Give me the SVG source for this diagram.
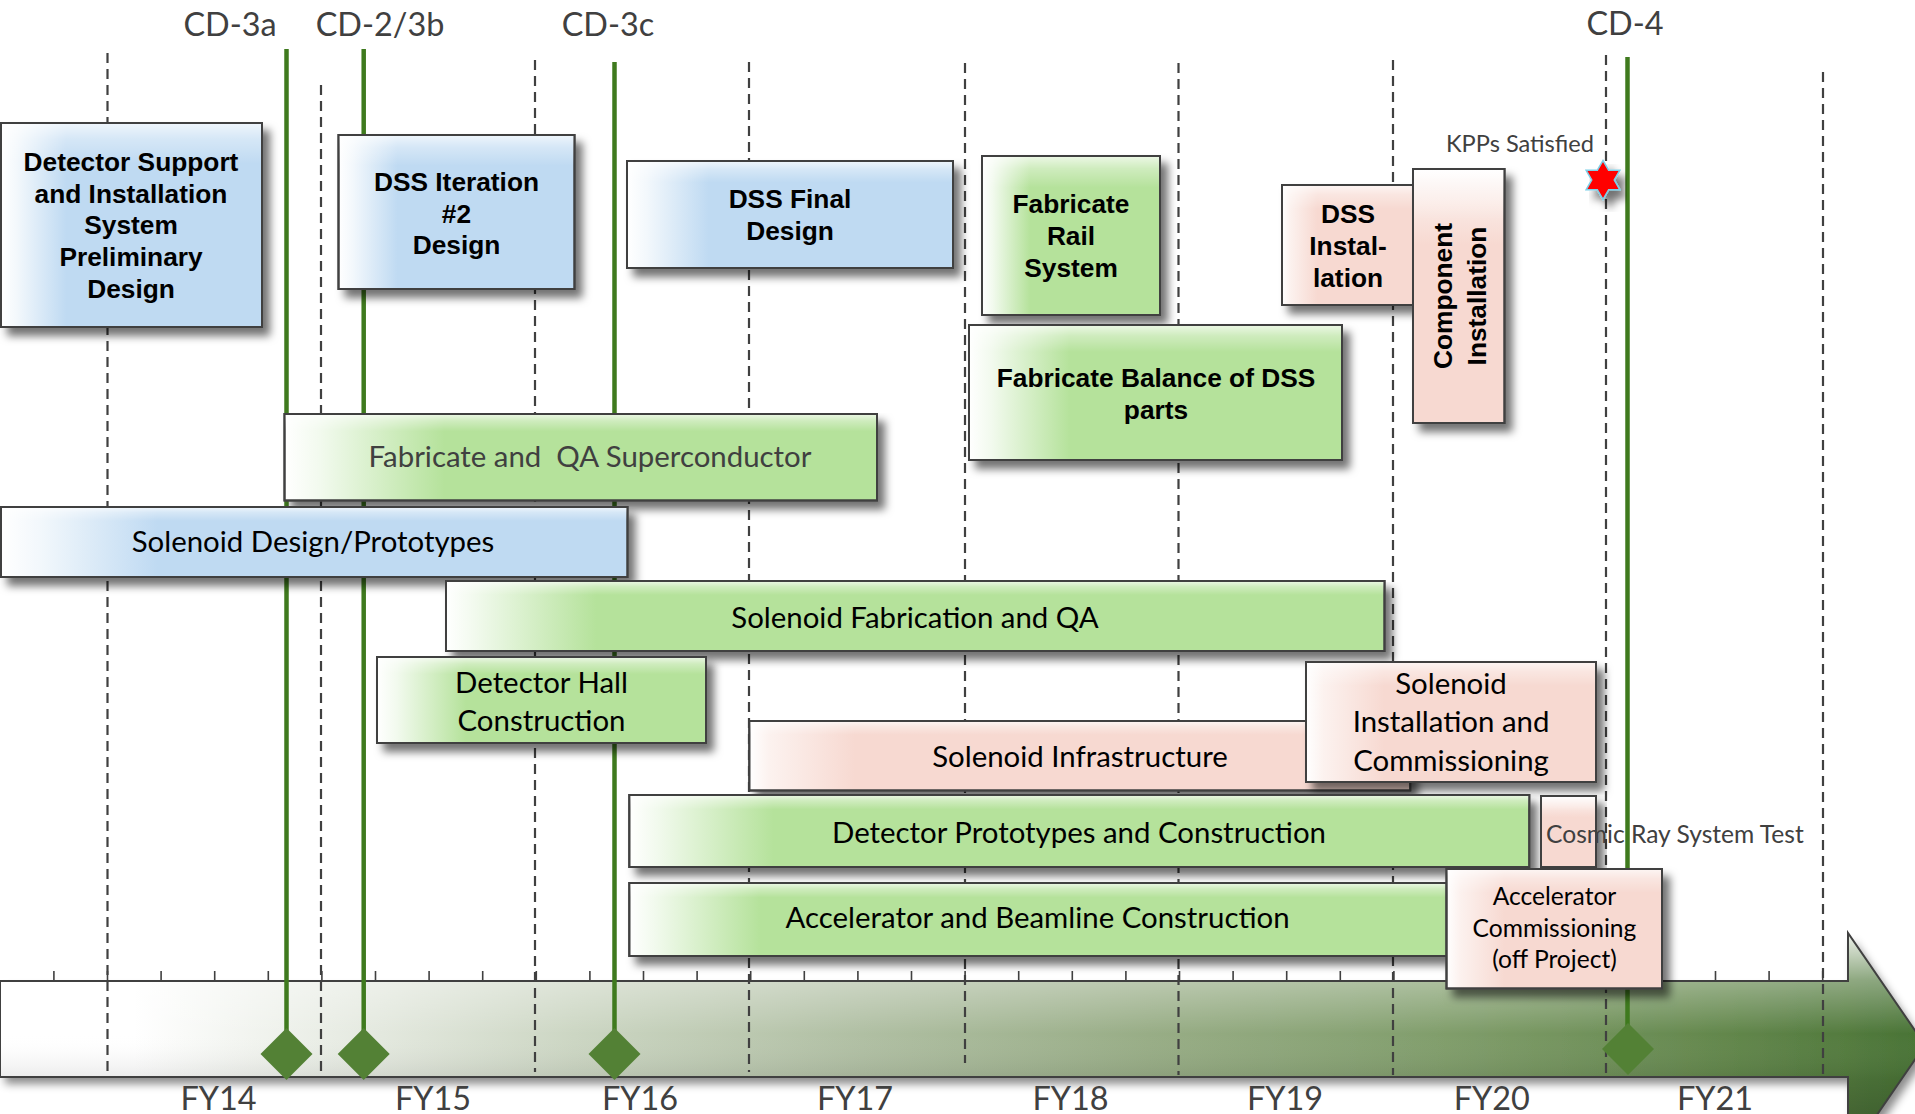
<svg xmlns="http://www.w3.org/2000/svg" width="1915" height="1114" viewBox="0 0 1915 1114">
<style>
.bx{stroke:#404040;stroke-width:2}
.hl{fill:url(#hl);stroke:#404040;stroke-width:2}
.b{font-family:"Liberation Sans",Arial,sans-serif;font-weight:bold;font-size:26.3px;text-anchor:middle;fill:#000}
.c{font-family:Lato,"Open Sans",sans-serif;font-size:29.4px;text-anchor:middle;fill:#000}
.cs{font-size:24.6px}
.gr{fill:#404040}
.lbl{font-family:Lato,"Open Sans",sans-serif;font-size:32.4px;fill:#404040;text-anchor:middle}
.dash{stroke:#404040;stroke-width:2.2;stroke-dasharray:10 6;fill:none}
.ms{stroke:#3f7a1e;stroke-width:4.5;fill:none}
.dia{fill:#538135}
.tick{stroke:#404040;stroke-width:1.6;fill:none}
</style>
<defs>
<filter id="sh" x="-10%" y="-10%" width="130%" height="140%">
<feGaussianBlur in="SourceAlpha" stdDeviation="4"/>
<feOffset dx="7" dy="8" result="o"/>
<feFlood flood-color="#000" flood-opacity="0.55"/>
<feComposite in2="o" operator="in"/>
<feMerge><feMergeNode/><feMergeNode in="SourceGraphic"/></feMerge>
</filter>
<filter id="sh2" x="-5%" y="-20%" width="110%" height="160%">
<feGaussianBlur in="SourceAlpha" stdDeviation="4"/>
<feOffset dx="5" dy="7" result="o"/>
<feFlood flood-color="#000" flood-opacity="0.45"/>
<feComposite in2="o" operator="in"/>
<feMerge><feMergeNode/><feMergeNode in="SourceGraphic"/></feMerge>
</filter>
<linearGradient id="gB" x1="0" y1="0" x2="1" y2="0"><stop offset="0" stop-color="#fff"/><stop offset="0.06" stop-color="#f3f8fc"/><stop offset="0.25" stop-color="#bfdaf2"/><stop offset="1" stop-color="#bfdaf2"/></linearGradient>
<linearGradient id="gG" x1="0" y1="0" x2="1" y2="0"><stop offset="0" stop-color="#fff"/><stop offset="0.06" stop-color="#f2faee"/><stop offset="0.27" stop-color="#b5e29b"/><stop offset="1" stop-color="#b5e29b"/></linearGradient>
<linearGradient id="gGw" x1="0" y1="0" x2="1" y2="0"><stop offset="0" stop-color="#fff"/><stop offset="0.03" stop-color="#f2faee"/><stop offset="0.16" stop-color="#b5e29b"/><stop offset="1" stop-color="#b5e29b"/></linearGradient>
<linearGradient id="gP" x1="0" y1="0" x2="1" y2="0"><stop offset="0" stop-color="#fff"/><stop offset="0.06" stop-color="#fcf2ef"/><stop offset="0.27" stop-color="#f7d9d1"/><stop offset="1" stop-color="#f7d9d1"/></linearGradient>
<linearGradient id="gPw" x1="0" y1="0" x2="1" y2="0"><stop offset="0" stop-color="#fff"/><stop offset="0.03" stop-color="#fcf2ef"/><stop offset="0.16" stop-color="#f7d9d1"/><stop offset="1" stop-color="#f7d9d1"/></linearGradient>
<linearGradient id="gPv" x1="0" y1="0" x2="0" y2="1"><stop offset="0" stop-color="#fff"/><stop offset="0.05" stop-color="#fcf2ef"/><stop offset="0.3" stop-color="#f7d9d1"/><stop offset="1" stop-color="#f7d9d1"/></linearGradient>
<linearGradient id="hl" x1="0" y1="0" x2="0" y2="1"><stop offset="0" stop-color="#fff" stop-opacity="0.75"/><stop offset="0.08" stop-color="#fff" stop-opacity="0.35"/><stop offset="0.2" stop-color="#fff" stop-opacity="0"/><stop offset="1" stop-color="#fff" stop-opacity="0"/></linearGradient>
<linearGradient id="aH" gradientUnits="userSpaceOnUse" x1="0" y1="0" x2="1915" y2="0"><stop offset="0" stop-color="#fff"/><stop offset="0.07" stop-color="#fff"/><stop offset="0.2" stop-color="#e3e8de"/><stop offset="0.3" stop-color="#ccd6c3"/><stop offset="0.45" stop-color="#b0bfa3"/><stop offset="0.6" stop-color="#98ad86"/><stop offset="0.75" stop-color="#819e6c"/><stop offset="0.9" stop-color="#63874c"/><stop offset="1" stop-color="#4a7436"/></linearGradient>
<linearGradient id="aV" gradientUnits="userSpaceOnUse" x1="0" y1="933" x2="0" y2="1157"><stop offset="0" stop-color="#fff" stop-opacity="0.9"/><stop offset="0.21" stop-color="#fff" stop-opacity="0.35"/><stop offset="0.45" stop-color="#fff" stop-opacity="0"/><stop offset="0.65" stop-color="#000" stop-opacity="0.08"/><stop offset="1" stop-color="#000" stop-opacity="0.3"/></linearGradient>
</defs>
<rect width="1915" height="1114" fill="#fff"/>

<g id="timeline-arrow">
<path d="M0,981 H1848 V933 L1925,1045 L1848,1157 V1077 H0 Z" fill="url(#aH)" filter="url(#sh2)"/>
<path d="M0,981 H1848 V933 L1925,1045 L1848,1157 V1077 H0 Z" fill="url(#aV)" stroke="#404040" stroke-width="2"/>
<path class="tick" d="M53.9,971V981M107.5,971V981M161.1,971V981M214.7,971V981M268.3,971V981M321.9,971V981M375.5,971V981M429.1,971V981M482.7,971V981M536.3,971V981M589.9,971V981M643.5,971V981M697.1,971V981M750.7,971V981M804.3,971V981M857.9,971V981M911.5,971V981M965.1,971V981M1018.7,971V981M1072.3,971V981M1125.9,971V981M1179.5,971V981M1233.1,971V981M1286.7,971V981M1340.3,971V981M1393.9,971V981M1447.5,971V981M1501.1,971V981M1554.7,971V981M1608.3,971V981M1661.9,971V981M1715.5,971V981M1769.1,971V981M1822.7,971V981"/>
</g>

<g id="year-gridlines">
<line class="dash" x1="107.5" y1="53" x2="107.5" y2="1072"/>
<line class="dash" x1="321" y1="85" x2="321" y2="1072"/>
<line class="dash" x1="535" y1="60" x2="535" y2="1072"/>
<line class="dash" x1="749" y1="62" x2="749" y2="1072"/>
<line class="dash" x1="965" y1="63" x2="965" y2="1063"/>
<line class="dash" x1="1178.5" y1="63" x2="1178.5" y2="1075"/>
<line class="dash" x1="1393" y1="60" x2="1393" y2="1075"/>
<line class="dash" x1="1606" y1="55" x2="1606" y2="1075"/>
<line class="dash" x1="1823" y1="72" x2="1823" y2="1075"/>
</g>

<g id="connectors">
<line class="ms" x1="286.5" y1="49" x2="286.5" y2="1032"/>
<line class="ms" x1="363.7" y1="49" x2="363.7" y2="1032"/>
<line class="ms" x1="614.5" y1="62" x2="614.5" y2="1032"/>
<line class="ms" x1="1627.5" y1="57" x2="1627.5" y2="1027"/>
</g>

<g id="milestones">
<path class="dia" d="M286.5,1028 L312.5,1054 L286.5,1080 L260.5,1054 Z"/>
<path class="dia" d="M363.7,1028 L389.7,1054 L363.7,1080 L337.7,1054 Z"/>
<path class="dia" d="M614.5,1028 L640.5,1054 L614.5,1080 L588.5,1054 Z"/>
<path class="dia" d="M1628,1023 L1654,1049 L1628,1075 L1602,1049 Z"/>
<text class="lbl" x="230" y="36">CD-3a</text>
<text class="lbl" x="380" y="36">CD-2/3b</text>
<text class="lbl" x="608" y="36">CD-3c</text>
<text class="lbl" x="1625" y="35">CD-4</text>
</g>

<g id="kpp">
<text class="c gr" x="1520" y="152" style="font-size:23.6px">KPPs Satisfied</text>
<path d="M1603,160.5 L1608.63,170.25 L1619.89,170.25 L1614.26,180 L1619.89,189.75 L1608.63,189.75 L1603,199.5 L1597.37,189.75 L1586.11,189.75 L1591.74,180 L1586.11,170.25 L1597.37,170.25 Z" fill="#ff0000" stroke="#7ecfe8" stroke-width="1.5" filter="url(#sh)"/>
</g>

<g id="dss-prelim">
<rect class="bx" x="1" y="123" width="261" height="204" fill="url(#gB)" filter="url(#sh)"/>
<rect class="hl" x="1" y="123" width="261" height="204"/>
<text class="b"><tspan x="131" y="170.7">Detector Support</tspan><tspan x="131" y="202.5">and Installation</tspan><tspan x="131" y="234.3">System</tspan><tspan x="131" y="266.2">Preliminary</tspan><tspan x="131" y="298">Design</tspan></text>
</g>

<g id="dss-iter2">
<rect class="bx" x="338.5" y="135" width="236" height="154" fill="url(#gB)" filter="url(#sh)"/>
<rect class="hl" x="338.5" y="135" width="236" height="154"/>
<text class="b"><tspan x="456.5" y="190.7">DSS Iteration</tspan><tspan x="456.5" y="222.5">#2</tspan><tspan x="456.5" y="254.3">Design</tspan></text>
</g>

<g id="dss-final">
<rect class="bx" x="627" y="161" width="326" height="107" fill="url(#gB)" filter="url(#sh)"/>
<rect class="hl" x="627" y="161" width="326" height="107"/>
<text class="b"><tspan x="790" y="208.3">DSS Final</tspan><tspan x="790" y="240">Design</tspan></text>
</g>

<g id="fab-rail">
<rect class="bx" x="982" y="156" width="178" height="159" fill="url(#gG)" filter="url(#sh)"/>
<rect class="hl" x="982" y="156" width="178" height="159"/>
<text class="b"><tspan x="1071" y="213.3">Fabricate</tspan><tspan x="1071" y="245.3">Rail</tspan><tspan x="1071" y="277.3">System</tspan></text>
</g>

<g id="dss-install">
<rect class="bx" x="1282" y="185" width="131" height="120" fill="url(#gP)" filter="url(#sh)"/>
<rect class="hl" x="1282" y="185" width="131" height="120"/>
<text class="b"><tspan x="1348" y="222.7">DSS</tspan><tspan x="1348" y="254.7">Instal-</tspan><tspan x="1348" y="286.7">lation</tspan></text>
</g>

<g id="component-install">
<rect class="bx" x="1413" y="169" width="91.5" height="254" fill="url(#gPv)" filter="url(#sh)"/>
<rect class="hl" x="1413" y="169" width="91.5" height="254"/>
<text class="b" transform="translate(1452,296) rotate(-90)" x="0" y="0">Component</text>
<text class="b" transform="translate(1485.5,296) rotate(-90)" x="0" y="0">Installation</text>
</g>

<g id="fab-balance">
<rect class="bx" x="969" y="325" width="373" height="135" fill="url(#gG)" filter="url(#sh)"/>
<rect class="hl" x="969" y="325" width="373" height="135"/>
<text class="b"><tspan x="1156" y="387.3">Fabricate Balance of DSS</tspan><tspan x="1156" y="418.8">parts</tspan></text>
</g>

<g id="fab-superconductor">
<rect class="bx" x="284.5" y="414" width="592.5" height="86.5" fill="url(#gG)" filter="url(#sh)"/>
<rect class="hl" x="284.5" y="414" width="592.5" height="86.5"/>
<text class="c gr" x="590" y="466.7" xml:space="preserve">Fabricate and  QA Superconductor</text>
</g>

<g id="solenoid-design">
<rect class="bx" x="1" y="507" width="626.5" height="70" fill="url(#gB)" filter="url(#sh)"/>
<rect class="hl" x="1" y="507" width="626.5" height="70"/>
<text class="c" x="313" y="552">Solenoid Design/Prototypes</text>
</g>

<g id="solenoid-fab">
<rect class="bx" x="446" y="581" width="938.5" height="70" fill="url(#gGw)" filter="url(#sh)"/>
<rect class="hl" x="446" y="581" width="938.5" height="70"/>
<text class="c" x="915" y="628.3">Solenoid Fabrication and QA</text>
</g>

<g id="detector-hall">
<rect class="bx" x="377" y="657" width="329" height="86" fill="url(#gG)" filter="url(#sh)"/>
<rect class="hl" x="377" y="657" width="329" height="86"/>
<text class="c"><tspan x="541.5" y="692.7">Detector Hall</tspan><tspan x="541.5" y="731">Construction</tspan></text>
</g>

<g id="solenoid-infra">
<rect class="bx" x="749.3" y="721" width="661" height="69.5" fill="url(#gPw)" filter="url(#sh)"/>
<rect class="hl" x="749.3" y="721" width="661" height="69.5"/>
<text class="c" x="1080" y="766.7">Solenoid Infrastructure</text>
</g>

<g id="solenoid-install">
<rect class="bx" x="1306" y="662" width="290" height="120" fill="url(#gP)" filter="url(#sh)"/>
<rect class="hl" x="1306" y="662" width="290" height="120"/>
<text class="c"><tspan x="1451" y="694">Solenoid</tspan><tspan x="1451" y="732.3">Installation and</tspan><tspan x="1451" y="770.5">Commissioning</tspan></text>
</g>

<g id="detector-proto">
<rect class="bx" x="629.3" y="795" width="900" height="72" fill="url(#gGw)" filter="url(#sh)"/>
<rect class="hl" x="629.3" y="795" width="900" height="72"/>
<text class="c" x="1079" y="843">Detector Prototypes and Construction</text>
</g>

<g id="cosmic-ray">
<rect class="bx" x="1541" y="796" width="55" height="71" fill="url(#gPv)" filter="url(#sh)"/>
<rect class="hl" x="1541" y="796" width="55" height="71"/>
<text class="c cs gr" x="1546" y="843" style="text-anchor:start">Cosmic Ray System Test</text>
</g>

<g id="accel-constr">
<rect class="bx" x="629.3" y="883" width="817.5" height="73" fill="url(#gGw)" filter="url(#sh)"/>
<rect class="hl" x="629.3" y="883" width="817.5" height="73"/>
<text class="c" x="1037.6" y="928.3">Accelerator and Beamline Construction</text>
</g>

<g id="accel-comm">
<rect class="bx" x="1446.5" y="869" width="215.5" height="119.5" fill="url(#gP)" filter="url(#sh)"/>
<rect class="hl" x="1446.5" y="869" width="215.5" height="119.5"/>
<text class="c cs"><tspan x="1554.5" y="905">Accelerator</tspan><tspan x="1554.5" y="937">Commissioning</tspan><tspan x="1554.5" y="968">(off Project)</tspan></text>
</g>

<g id="fy-labels">
<text class="lbl" x="218.6" y="1110">FY14</text>
<text class="lbl" x="433" y="1110">FY15</text>
<text class="lbl" x="640" y="1110">FY16</text>
<text class="lbl" x="855" y="1110">FY17</text>
<text class="lbl" x="1070.6" y="1110">FY18</text>
<text class="lbl" x="1285" y="1110">FY19</text>
<text class="lbl" x="1491.7" y="1110">FY20</text>
<text class="lbl" x="1715" y="1110">FY21</text>
</g>
</svg>
